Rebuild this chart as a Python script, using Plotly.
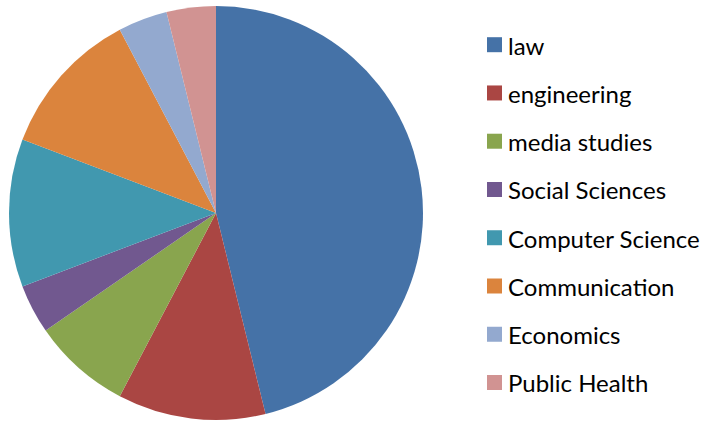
import plotly.graph_objects as go

labels = ["law", "engineering", "media studies", "Social Sciences",
          "Computer Science", "Communication", "Economics", "Public Health"]
values = [12, 3, 2, 1, 3, 3, 1, 1]
colors = ["#4572A7", "#AA4643", "#89A54E", "#71588F",
          "#4198AF", "#DB843D", "#93A9CF", "#D19392"]

W, H = 707, 422

fig = go.Figure(go.Pie(
    labels=labels, values=values, sort=False, direction="clockwise",
    rotation=0, textinfo="none", hoverinfo="label+value+percent",
    marker=dict(colors=colors, line=dict(width=0)),
    domain=dict(x=[9 / W, 423 / W], y=[2 / H, 416 / H]),
    showlegend=False,
))

# custom legend (positions computed from index)
y0, step = 44.7, 48.26
shapes, annos = [], []
for i, (lab, col) in enumerate(zip(labels, colors)):
    yc = y0 + step * i
    shapes.append(dict(type="rect", xref="paper", yref="paper",
                       x0=487 / W, x1=502 / W,
                       y0=1 - (yc + 7.5) / H, y1=1 - (yc - 7.5) / H,
                       fillcolor=col, line=dict(width=0)))
    annos.append(dict(text=lab, xref="paper", yref="paper",
                      x=506 / W, y=1 - (yc + 0.3) / H, xanchor="left", yanchor="middle",
                      showarrow=False,
                      font=dict(family="Lato", size=24, color="#000000")))

fig.update_layout(
    width=W, height=H, margin=dict(l=0, r=0, t=0, b=0),
    paper_bgcolor="white", plot_bgcolor="white",
    shapes=shapes, annotations=annos,
)
fig.write_html("out.html", config={"displayModeBar": False},
               post_script="document.body.style.margin='0px';document.body.style.overflow='hidden';")
